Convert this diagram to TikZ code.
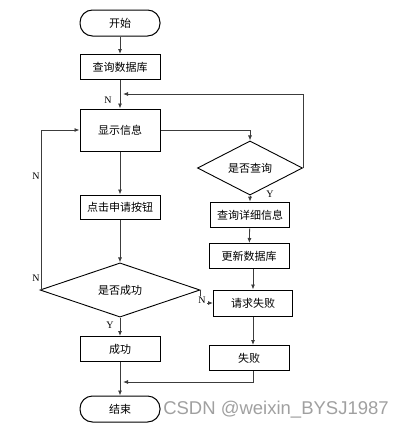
\documentclass[tikz,border=0pt]{standalone}
\usepackage{fontspec}
\setmainfont{Liberation Serif}
\newfontfamily\cjk{Noto Sans CJK SC}
\newfontfamily\wmfont{Liberation Sans}
\usepackage{xcolor}
\usetikzlibrary{arrows.meta, positioning, calc, shapes.geometric}
\definecolor{linegray}{RGB}{60,60,60}
\definecolor{markgray}{RGB}{160,160,160}

\begin{document}
\begin{tikzpicture}[
    x=1pt, y=-1pt,
    >={Latex[length=5pt, width=4pt]},
    procbox/.style={draw, line width=1pt, minimum width=80pt, minimum height=25pt, inner sep=0pt, font=\cjk\fontsize{11}{12}\selectfont},
    termbox/.style={procbox, rounded corners=12.5pt, minimum height=26pt},
    decbox/.style={draw, diamond, line width=0.9pt, inner sep=0pt, font=\cjk\fontsize{11}{12}\selectfont},
    flow/.style={->, draw=linegray, line width=0.8pt},
    yn/.style={font=\fontsize{10}{12}\selectfont, inner sep=1pt},
]
    \useasboundingbox (0,0) rectangle (403,431);

    % left column
    \node[termbox] (start) at (120,23) {开始};
    \node[procbox] (querydb) at (120,67) {查询数据库};
    \node[procbox, minimum height=42pt] (show) at (120,130) {显示信息};
    \node[procbox, minimum height=24pt] (click) at (120,207) {点击申请按钮};
    \node[decbox, minimum width=160pt, minimum height=42pt] (okq) at (120,290) {是否成功};
    \node[procbox] (succ) at (120,349) {成功};
    \node[termbox] (stop) at (120,409) {结束};

    % right column
    \node[decbox, minimum width=105pt, minimum height=40pt] (askq) at (250,168) {是否查询};
    \node[procbox, line width=1.6pt, minimum width=79pt] (detail) at (250,215) {查询详细信息};
    \node[procbox] (update) at (249,256) {更新数据库};
    \node[procbox, minimum width=79pt, minimum height=26pt] (reqfail) at (253,303) {请求失败};
    \node[procbox] (fail) at (249,358) {失败};

    \coordinate (back) at (123,94);
    \coordinate (merge) at (123,382);

    \draw[flow] (start) -- (querydb);
    \draw[flow] (querydb) -- (show);
    \draw[flow] (show.east) -| (askq.north);
    \draw[flow] (askq.east) |- (back);
    \draw[flow] (askq) -- (detail);
    \draw[flow] (detail) -- (update);
    \draw[flow] (reqfail.north |- update.south) -- (reqfail.north);
    \draw[flow] (reqfail) -- (reqfail.south |- fail.north);
    \draw[flow] (reqfail.south |- fail.south) |- (merge);

    \draw[flow] (show) -- (click);
    \draw[flow] (click) -- (okq);
    \draw[flow] (okq) -- (succ);
    \draw[flow] (succ) -- (stop);
    \draw[flow] (okq.west) ++(2,0) |- (show.west);
    \draw[flow] (okq.east) |- (reqfail.west);

    % branch labels
    \node[yn] at (108,100) {N};
    \node[yn] at (270,194) {Y};
    \node[yn] at (110,325) {Y};
    \node[yn] at (36,176) {N};
    \node[yn] at (36,278) {N};
    \node[yn, fill=white] at (202,300) {N};

    \node[text=markgray, font=\wmfont\fontsize{18.5}{20}\selectfont, inner sep=0pt] (mark) at (276,410) {CSDN @weixin\_BYSJ1987};
\end{tikzpicture}
\end{document}
